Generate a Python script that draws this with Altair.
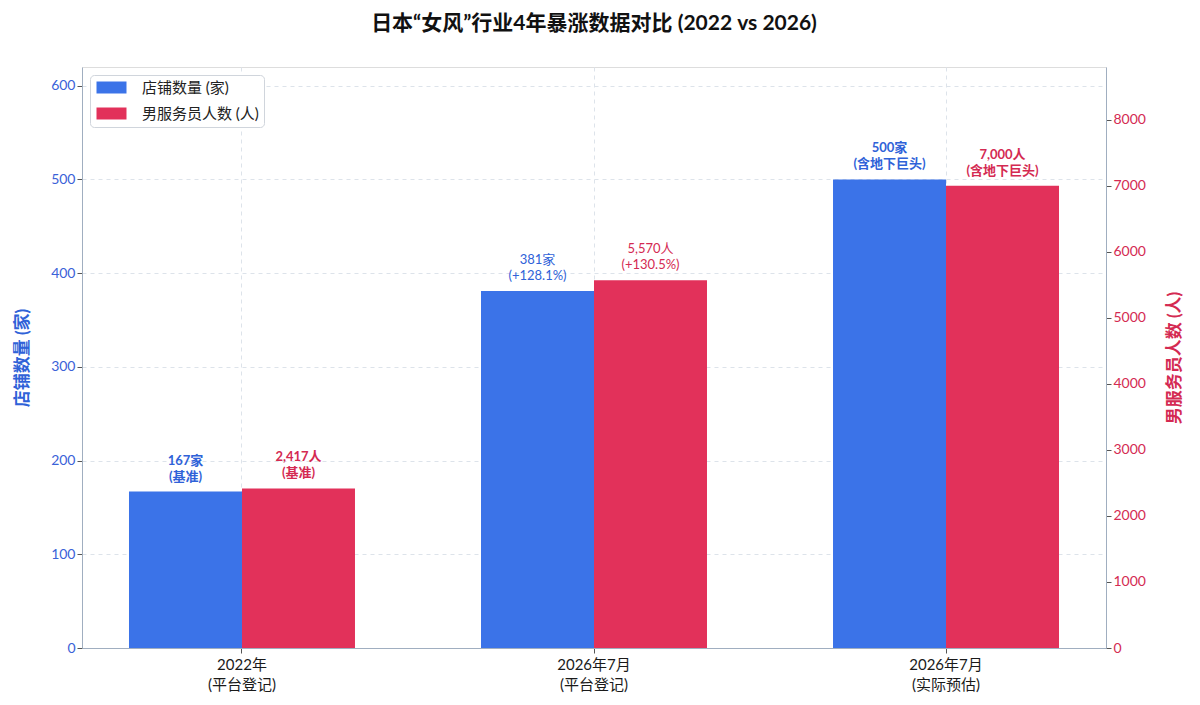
import altair as alt
import pandas as pd

categories = ["2022年|(平台登记)", "2026年7月|(平台登记)", "2026年7月|(实际预估)"]
series_names = ["店铺数量 (家)", "男服务员人数 (人)"]
shops = [167, 381, 500]
staff = [2417, 5570, 7000]
shop_labels = ["167家\n(基准)", "381家\n(+128.1%)", "500家\n(含地下巨头)"]
staff_labels = ["2,417人\n(基准)", "5,570人\n(+130.5%)", "7,000人\n(含地下巨头)"]
label_bold = [True, False, True]

FONT = "Lato, Noto Sans CJK SC"
BLUE = "#3B73E8"
RED = "#E2315A"
BLUE_TXT = "#2F62D8"
RED_TXT = "#D42A52"

df_shop = pd.DataFrame({"cat": categories, "series": series_names[0], "v": shops,
                        "label": shop_labels, "bold": label_bold})
df_staff = pd.DataFrame({"cat": categories, "series": series_names[1], "v": staff,
                         "label": staff_labels, "bold": label_bold})

x_enc = alt.X("cat:N", sort=categories,
              scale=alt.Scale(paddingInner=0.358, paddingOuter=0.1335),
              axis=alt.Axis(title=None, labelAngle=0, grid=True, gridDash=[4, 4],
                            gridColor="#DDE3EA", labelExpr="split(datum.label, '|')",
                            labelFontSize=15, labelColor="#1A1A1A", labelFont=FONT,
                            labelLineHeight=20, labelPadding=4, tickColor="#555",
                            domainColor="#A0AEC0"))
xo_enc = alt.XOffset("series:N", scale=alt.Scale(domain=series_names, paddingInner=0))
color_enc = alt.Color("series:N",
                      scale=alt.Scale(domain=series_names, range=[BLUE, RED]),
                      legend=alt.Legend(title=None, orient="top-left", offset=8,
                                        fillColor="white", strokeColor="#D0D5DC",
                                        cornerRadius=4, padding=5,
                                        labelFontSize=15, labelFont=FONT,
                                        labelColor="#222222", rowPadding=10,
                                        symbolType="M-1,-1H4V1H-1Z",
                                        symbolSize=144, symbolStrokeWidth=0,
                                        symbolOpacity=1, labelOffset=32))

y_left = alt.Y("v:Q", scale=alt.Scale(domain=[0, 620], nice=False),
               axis=alt.Axis(title="店铺数量 (家)", orient="left",
                             values=[0, 100, 200, 300, 400, 500, 600],
                             grid=True, gridDash=[4, 4], gridColor="#DDE3EA",
                             labelColor="#3A62D8", labelFontSize=14, labelFont=FONT,
                             titleColor="#2F62D8", titleFontSize=17, titleFont=FONT,
                             titleFontWeight="bold", titlePadding=19,
                             tickColor="#555", domainColor="#A0AEC0"))
y_right = alt.Y("v:Q", scale=alt.Scale(domain=[0, 8800], nice=False),
                axis=alt.Axis(title="男服务员人数 (人)", orient="right", format="d",
                              values=[0, 1000, 2000, 3000, 4000, 5000, 6000, 7000, 8000],
                              grid=False, titleAngle=270,
                              labelColor="#D42A52", labelFontSize=14, labelFont=FONT,
                              titleColor="#D42A52", titleFontSize=17, titleFont=FONT,
                              titleFontWeight="bold", titlePadding=38,
                              tickColor="#555", domainColor="#A0AEC0"))


def text_layers(df, y_enc, color):
    out = []
    for bold in [True, False]:
        sub = df[df["bold"] == bold]
        out.append(alt.Chart(sub).mark_text(
            baseline="bottom", dy=-24, fontSize=13, lineHeight=16, font=FONT,
            lineBreak="\n", color=color, fontWeight="bold" if bold else "normal"
        ).encode(x=x_enc, xOffset=xo_enc, y=y_enc, text="label:N"))
    return out


bars_shop = alt.Chart(df_shop).mark_bar().encode(
    x=x_enc, xOffset=xo_enc, y=y_left, color=color_enc)
bars_staff = alt.Chart(df_staff).mark_bar().encode(
    x=x_enc, xOffset=xo_enc, y=y_right, color=color_enc)

left = alt.layer(bars_shop, *text_layers(df_shop, y_left, BLUE_TXT))
right = alt.layer(bars_staff, *text_layers(df_staff, y_right, RED_TXT))

chart = alt.layer(left, right).resolve_scale(y="independent").properties(
    width=1024, height=581,
    title=alt.Title("日本“女风”行业4年暴涨数据对比 (2022 vs 2026)", fontSize=21,
                    font=FONT, fontWeight="bold", color="#111111", offset=33),
).configure_view(fill="#F8F9FB", stroke="#A0AEC0", strokeWidth=1.5
).configure(background="white")

chart.save("out.html", embed_options={"renderer": "svg", "actions": False})
